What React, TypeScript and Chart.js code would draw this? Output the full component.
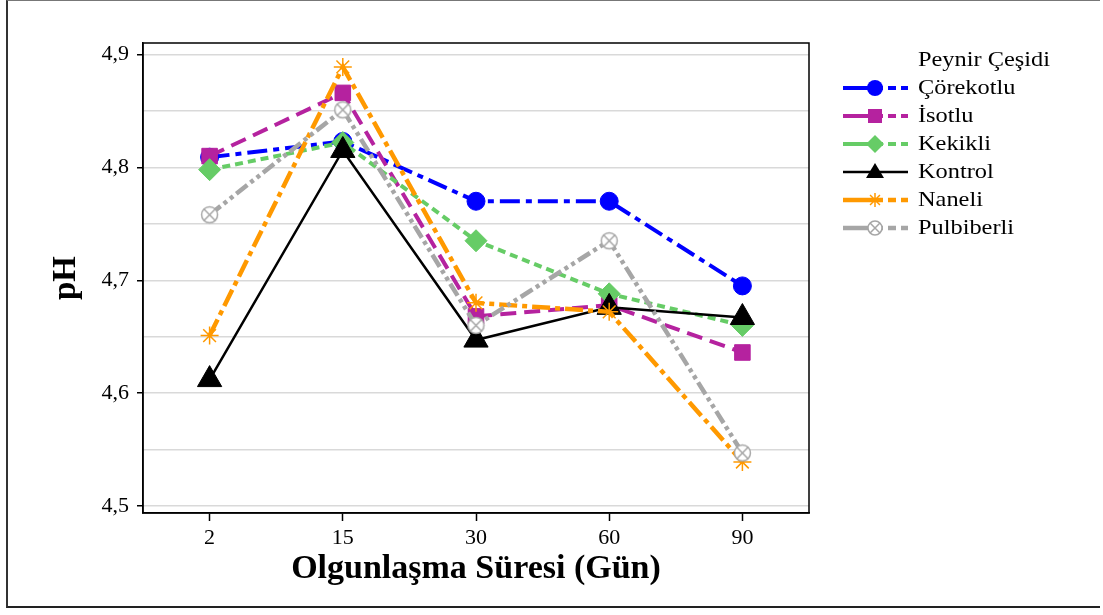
import React, { useEffect, useRef } from "react";
import { Chart, registerables } from "chart.js";

Chart.register(...registerables);

const categories = ["2", "15", "30", "60", "90"];
const seriesNames = ["Çörekotlu", "İsotlu", "Kekikli", "Kontrol", "Naneli", "Pulbiberli"];
const corekotlu = [4.809, 4.823, 4.77, 4.77, 4.695];
const isotlu = [4.81, 4.866, 4.668, 4.678, 4.636];
const kekikli = [4.798, 4.822, 4.735, 4.688, 4.66];
const kontrol = [4.612, 4.815, 4.647, 4.676, 4.667];
const naneli = [4.651, 4.889, 4.68, 4.672, 4.539];
const pulbiberli = [4.758, 4.851, 4.66, 4.735, 4.547];
const yTickValues = [4.5, 4.55, 4.6, 4.65, 4.7, 4.75, 4.8, 4.85, 4.9];
const legendTitle = "Peynir Çeşidi";
const xTitle = "Olgunlaşma Süresi (Gün)";
const yTitle = "pH";

function makeCircleCross(color: string, r: number, lw: number) {
  const size = Math.ceil(r * 2 + lw * 2 + 2);
  const c = document.createElement("canvas");
  c.width = size;
  c.height = size;
  const g = c.getContext("2d")!;
  const m = size / 2;
  g.strokeStyle = color;
  g.lineWidth = lw;
  g.fillStyle = "#ffffff";
  g.beginPath();
  g.arc(m, m, r, 0, Math.PI * 2);
  g.fill();
  g.stroke();
  const d = r * Math.SQRT1_2;
  g.beginPath();
  g.moveTo(m - d, m - d);
  g.lineTo(m + d, m + d);
  g.moveTo(m + d, m - d);
  g.lineTo(m - d, m + d);
  g.stroke();
  return c;
}

function drawMarker(ctx: CanvasRenderingContext2D, kind: number, color: string, x: number, y: number) {
  ctx.save();
  ctx.fillStyle = color;
  ctx.strokeStyle = color;
  ctx.beginPath();
  if (kind === 0) {
    ctx.arc(x, y, 8, 0, Math.PI * 2);
    ctx.fill();
  } else if (kind === 1) {
    ctx.rect(x - 7, y - 7, 14, 14);
    ctx.fill();
  } else if (kind === 2) {
    ctx.moveTo(x, y - 9);
    ctx.lineTo(x + 9, y);
    ctx.lineTo(x, y + 9);
    ctx.lineTo(x - 9, y);
    ctx.closePath();
    ctx.fill();
  } else if (kind === 3) {
    ctx.moveTo(x, y - 9);
    ctx.lineTo(x + 9, y + 6);
    ctx.lineTo(x - 9, y + 6);
    ctx.closePath();
    ctx.fill();
  } else if (kind === 4) {
    ctx.lineWidth = 1.5;
    const r = 7;
    const d = r * Math.SQRT1_2;
    ctx.moveTo(x - d, y - d);
    ctx.lineTo(x + d, y + d);
    ctx.moveTo(x + d, y - d);
    ctx.lineTo(x - d, y + d);
    ctx.moveTo(x - r, y);
    ctx.lineTo(x + r, y);
    ctx.moveTo(x, y - r);
    ctx.lineTo(x, y + r);
    ctx.stroke();
  } else {
    ctx.lineWidth = 1.5;
    ctx.fillStyle = "#fff";
    ctx.arc(x, y, 7, 0, Math.PI * 2);
    ctx.fill();
    ctx.stroke();
    const d = 7 * Math.SQRT1_2;
    ctx.beginPath();
    ctx.moveTo(x - d, y - d);
    ctx.lineTo(x + d, y + d);
    ctx.moveTo(x + d, y - d);
    ctx.lineTo(x - d, y + d);
    ctx.stroke();
  }
  ctx.restore();
}

export default function App() {
  const ref = useRef<HTMLCanvasElement | null>(null);

  useEffect(() => {
    const canvas = ref.current;
    if (!canvas) return;
    const grayMarker = makeCircleCross("#A6A6A6", 8, 1.5);

    const styles = [
      { color: "#0000FF", dash: [20, 6, 6, 6], width: 4, point: "circle" as any, radius: 9, pbw: 1 },
      { color: "#B5229F", dash: [16, 8], width: 4, point: "rect" as any, radius: 11, pbw: 1 },
      { color: "#66CC66", dash: [8, 5], width: 4, point: "rectRot" as any, radius: 11, pbw: 1 },
      { color: "#000000", dash: [], width: 2.5, point: "triangle" as any, radius: 14, pbw: 1 },
      { color: "#FF9900", dash: [18, 5, 5, 5], width: 4.5, point: "star" as any, radius: 9, pbw: 1.5 },
      { color: "#A6A6A6", dash: [14, 4, 4, 4, 4, 4], width: 4.5, point: grayMarker as any, radius: 9, pbw: 1.5 },
    ];
    const values = [corekotlu, isotlu, kekikli, kontrol, naneli, pulbiberli];

    const datasets = seriesNames.map((name, i) => {
      const s = styles[i];
      const filled = i !== 4 && i !== 5;
      return {
        label: name,
        data: values[i],
        borderColor: s.color,
        backgroundColor: s.color,
        borderWidth: s.width,
        borderDash: s.dash,
        borderCapStyle: "butt" as const,
        pointStyle: s.point,
        pointRadius: s.radius,
        pointHoverRadius: s.radius,
        pointBackgroundColor: filled ? s.color : "rgba(0,0,0,0)",
        pointBorderColor: s.color,
        pointBorderWidth: s.pbw,
        tension: 0,
        fill: false,
        order: 5 - i,
      };
    });

    const framePlugin = {
      id: "frame",
      beforeDatasetsDraw(chart: any) {
        const { ctx, chartArea: a } = chart;
        ctx.save();
        ctx.strokeStyle = "#000";
        ctx.lineWidth = 1.5;
        ctx.strokeRect(a.left, a.top, a.right - a.left, a.bottom - a.top);
        ctx.restore();
      },
    };

    const legendPlugin = {
      id: "customLegend",
      afterDraw(chart: any) {
        const ctx = chart.ctx as CanvasRenderingContext2D;
        ctx.save();
        ctx.fillStyle = "#000";
        ctx.textBaseline = "middle";
        ctx.textAlign = "left";
        ctx.font = '21px "Liberation Serif", serif';
        const tx = 918;
        const drawText = (t: string, y: number) => {
          ctx.save();
          ctx.translate(tx, y);
          ctx.scale(1.16, 1);
          ctx.fillStyle = "#000";
          ctx.fillText(t, 0, 0);
          ctx.restore();
        };
        drawText(legendTitle, 60);
        seriesNames.forEach((name, i) => {
          const s = styles[i];
          const y = 88 + i * 28;
          ctx.save();
          ctx.strokeStyle = s.color;
          ctx.lineWidth = s.width;
          ctx.lineCap = "butt";
          ctx.beginPath();
          ctx.moveTo(843, y);
          ctx.lineTo(875, y);
          ctx.stroke();
          ctx.setLineDash(s.dash.length ? [8, 5] : []);
          ctx.beginPath();
          ctx.moveTo(875, y);
          ctx.lineTo(908, y);
          ctx.stroke();
          ctx.restore();
          drawMarker(ctx, i, s.color, 875, y);
          drawText(name, y);
        });
        ctx.restore();
      },
    };

    const chart = new Chart(canvas, {
      type: "line",
      data: { labels: categories, datasets: datasets as any },
      plugins: [framePlugin, legendPlugin],
      options: {
        animation: false,
        responsive: false,
        maintainAspectRatio: false,
        events: [],
        layout: { padding: { left: 0, top: 43, right: 294, bottom: 0 } },
        plugins: { legend: { display: false }, tooltip: { enabled: false } },
        scales: {
          x: {
            type: "category",
            offset: true,
            afterFit(scale: any) {
              scale.height = 102;
            },
            border: { display: true, color: "#000", width: 1.5 },
            grid: { drawOnChartArea: false, drawTicks: true, tickLength: 8, tickColor: "#000", tickWidth: 1.5 },
            ticks: {
              color: "#000",
              padding: 4,
              font: { family: '"Liberation Serif", serif', size: 22 },
              maxRotation: 0,
              autoSkip: false,
            },
            title: {
              display: true,
              text: xTitle,
              color: "#000",
              font: { family: '"Liberation Serif", serif', size: 34, weight: "bold" },
              padding: { top: 0, bottom: 25 },
            },
          },
          y: {
            type: "linear",
            min: 4.4938,
            max: 4.9102,
            afterFit(scale: any) {
              scale.width = 143;
            },
            afterBuildTicks(scale: any) {
              scale.ticks = yTickValues.map((v) => ({ value: v }));
            },
            border: { display: true, color: "#000", width: 1.5 },
            grid: {
              color: "#D9D9D9",
              lineWidth: 1.5,
              drawTicks: true,
              tickLength: 6,
              tickWidth: 1.5,
              tickColor: (c: any) => {
                const v = c.tick ? c.tick.value : 0;
                return Math.abs(v * 10 - Math.round(v * 10)) < 1e-6 ? "#000" : "rgba(0,0,0,0)";
              },
            },
            ticks: {
              color: "#000",
              padding: 8,
              autoSkip: false,
              font: { family: '"Liberation Serif", serif', size: 22 },
              callback: (v: any) => {
                const n = Number(v);
                return Math.abs(n * 10 - Math.round(n * 10)) < 1e-6 ? n.toFixed(1).replace(".", ",") : "";
              },
            },
            title: {
              display: true,
              text: yTitle,
              color: "#000",
              font: { family: '"Liberation Serif", serif', size: 33, weight: "bold" },
              padding: { top: 47, bottom: 0 },
            },
          },
        },
      },
    });
    return () => chart.destroy();
  }, []);

  return (
    <div style={{ position: "absolute", left: 0, top: 0, width: 1103, height: 615, background: "#fff" }}>
      <div
        style={{
          position: "absolute",
          left: 6,
          top: 0,
          width: 1094,
          height: 608,
          borderLeft: "2px solid #333",
          borderTop: "1px solid #777",
          borderBottom: "2px solid #222",
          boxSizing: "border-box",
        }}
      />
      <canvas ref={ref} width={1103} height={615} style={{ position: "absolute", left: 0, top: 0, width: 1103, height: 615 }} />
    </div>
  );
}
